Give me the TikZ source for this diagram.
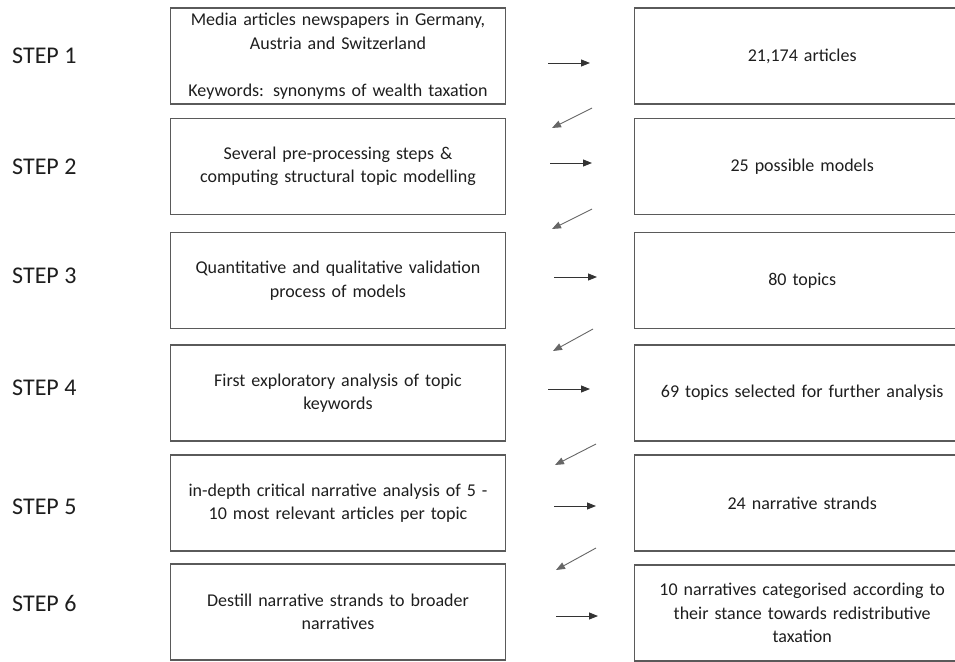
\documentclass[tikz,border=0pt]{standalone}
\usepackage{fontspec}
\setmainfont{Carlito}
\usepackage{tikz}
\usetikzlibrary{positioning,arrows.meta}
\definecolor{frame}{HTML}{5A5A5A}
\definecolor{ink}{HTML}{1E1E1E}
\tikzset{
  box/.style={rectangle,draw=frame,line width=1.2pt,align=center,inner sep=4pt,
    minimum width=335pt,minimum height=96pt,text width=322pt,
    font=\fontsize{18}{23.5}\selectfont,text=ink},
  steplabel/.style={anchor=west,inner sep=0pt,font=\fontsize{24}{28}\selectfont,text=ink},
  fl/.style={-{Triangle[length=9pt,width=7pt]},draw=black!80,line width=0.9pt},
}
\begin{document}
\begin{tikzpicture}[x=1pt,y=-1pt,node distance=128pt]
  \clip (0,0) rectangle (955,661);
  % steps (left column)
  \node[box] (m1) at (338,56) {Media articles newspapers in Germany,\\Austria and Switzerland\\[23.5pt]Keywords: synonyms of wealth taxation};
  \node[box] (m2) at (338,166.5) {Several pre-processing steps \&\\computing structural topic modelling};
  \node[box] (m3) at (338,280.5) {Quantitative and qualitative validation\\process of models};
  \node[box] (m4) at (338,393) {First exploratory analysis of topic\\keywords};
  \node[box] (m5) at (338,503) {in-depth critical narrative analysis of 5 -\\10 most relevant articles per topic};
  \node[box] (m6) at (338,612) {Destill narrative strands to broader\\narratives};
  % results (right column)
  \node[box,right=of m1] (r1) {21,174 articles};
  \node[box,right=of m2] (r2) {25 possible models};
  \node[box,right=of m3] (r3) {80 topics};
  \node[box,right=of m4] (r4) {69 topics selected for further analysis};
  \node[box,right=of m5] (r5) {24 narrative strands};
  \node[box,right=of m6,yshift=-1pt] (r6) {10 narratives categorised according to\\their stance towards redistributive\\taxation};
  % labels
  \node[steplabel] (s1) at (12,56) {STEP 1};
  \node[steplabel] (s2) at (12,167) {STEP 2};
  \node[steplabel] (s3) at (12,276) {STEP 3};
  \node[steplabel] (s4) at (12,388) {STEP 4};
  \node[steplabel] (s5) at (12,507) {STEP 5};
  \node[steplabel] (s6) at (12,603) {STEP 6};
  % arrow ends
  \coordinate (h1a) at (548,63);  \coordinate (h1b) at (590,63);
  \coordinate (h2a) at (550,163); \coordinate (h2b) at (592,163);
  \coordinate (h3a) at (554,277); \coordinate (h3b) at (597,277);
  \coordinate (h4a) at (548,389); \coordinate (h4b) at (590,389);
  \coordinate (h5a) at (554,506); \coordinate (h5b) at (596,506);
  \coordinate (h6a) at (556,616); \coordinate (h6b) at (598,616);
  \coordinate (d1a) at (592,108); \coordinate (d1b) at (552,128);
  \coordinate (d2a) at (592,209); \coordinate (d2b) at (552,229);
  \coordinate (d3a) at (593,329); \coordinate (d3b) at (553,351);
  \coordinate (d4a) at (596,444); \coordinate (d4b) at (555,465);
  \coordinate (d5a) at (596,548); \coordinate (d5b) at (556,570);
  \draw[fl] (h1a)--(h1b); \draw[fl] (h2a)--(h2b); \draw[fl] (h3a)--(h3b);
  \draw[fl] (h4a)--(h4b); \draw[fl] (h5a)--(h5b); \draw[fl] (h6a)--(h6b);
  \draw[fl,draw=black!60] (d1a)--(d1b); \draw[fl,draw=black!60] (d2a)--(d2b);
  \draw[fl,draw=black!60] (d3a)--(d3b); \draw[fl,draw=black!60] (d4a)--(d4b);
  \draw[fl,draw=black!60] (d5a)--(d5b);
\end{tikzpicture}
\end{document}
